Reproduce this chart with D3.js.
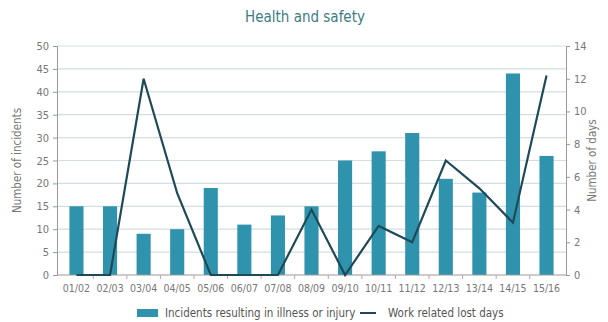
<!DOCTYPE html>
<html>
<head>
<meta charset="utf-8">
<script src="https://cdn.jsdelivr.net/npm/d3@7/dist/d3.min.js"></script>
<style>
  html, body { margin: 0; padding: 0; background: #fff; }
  svg text { font-family: "Liberation Sans Narrow", "DejaVu Sans Condensed", "Roboto", sans-serif; }
</style>
</head>
<body>
<svg id="chart" width="608" height="322"></svg>
<script>
// data
const years = ["01/02","02/03","03/04","04/05","05/06","06/07","07/08","08/09","09/10","10/11","11/12","12/13","13/14","14/15","15/16"];
const incidents = [15, 15, 9, 10, 19, 11, 13, 15, 25, 27, 31, 21, 18, 44, 26];
const lostDays = [0, 0, 12, 5, 0, 0, 0, 4, 0, 3, 2, 7, 5.3, 3.2, 12.2];
const leftTicks = [0, 5, 10, 15, 20, 25, 30, 35, 40, 45, 50];
const rightTicks = [0, 2, 4, 6, 8, 10, 12, 14];

const barColor = "#2f93ae";
const lineColor = "#1e4a58";
const gridColor = "#d3dde2";
const textColor = "#777";

const svg = d3.select("#chart");
const plotL = 57, plotR = 566, plotT = 46, plotB = 275;

const x = d3.scaleBand().domain(years).range([plotL, plotR]).paddingInner(0.58).paddingOuter(0.37);
const yL = d3.scaleLinear().domain([0, 50]).range([plotB, plotT]);
const yR = d3.scaleLinear().domain([0, 14]).range([plotB, plotT]);

// title
svg.append("text")
  .attr("x", 305).attr("y", 22)
  .attr("text-anchor", "middle")
  .attr("fill", "#3d7c83")
  .style("font-size", "15px")
  .text("Health and safety");

// gridlines
svg.append("g").selectAll("line")
  .data(leftTicks.filter(d => d > 0))
  .join("line")
  .attr("x1", plotL).attr("x2", plotR)
  .attr("y1", d => yL(d)).attr("y2", d => yL(d))
  .attr("stroke", gridColor).attr("stroke-width", 1.2);

// left axis
const gL = svg.append("g").attr("transform", `translate(${plotL},0)`)
  .call(d3.axisLeft(yL).tickValues(leftTicks).tickSize(4).tickPadding(4));
// right axis
const gR = svg.append("g").attr("transform", `translate(${plotR},0)`)
  .call(d3.axisRight(yR).tickValues(rightTicks).tickSize(4).tickPadding(4));
[gL, gR].forEach(g => {
  g.select(".domain").attr("stroke", "#999");
  g.selectAll(".tick line").attr("stroke", "#999");
  g.selectAll(".tick text").attr("fill", textColor).style("font-size", "11px");
});

// bars
svg.append("g").selectAll("rect")
  .data(incidents)
  .join("rect")
  .attr("x", (d, i) => x(years[i]))
  .attr("y", d => yL(d))
  .attr("width", x.bandwidth())
  .attr("height", d => plotB - yL(d))
  .attr("fill", barColor);

// x axis baseline
svg.append("line")
  .attr("x1", plotL).attr("x2", plotR)
  .attr("y1", plotB).attr("y2", plotB)
  .attr("stroke", "#999");

// x ticks between categories
const step = x.step();
const bounds = years.slice(1).map(d => x(d) - (step - x.bandwidth()) / 2);
svg.append("g").selectAll("line")
  .data(bounds)
  .join("line")
  .attr("x1", d => d).attr("x2", d => d)
  .attr("y1", plotB).attr("y2", plotB + 4)
  .attr("stroke", "#c9a0a0");

svg.append("g").selectAll("text")
  .data(years)
  .join("text")
  .attr("x", d => x(d) + x.bandwidth() / 2)
  .attr("y", 292)
  .attr("text-anchor", "middle")
  .attr("fill", textColor)
  .style("font-size", "10.5px")
  .text(d => d);

// line
const line = d3.line()
  .x((d, i) => x(years[i]) + x.bandwidth() / 2)
  .y(d => yR(d));
svg.append("path")
  .datum(lostDays)
  .attr("d", line)
  .attr("fill", "none")
  .attr("stroke", lineColor)
  .attr("stroke-width", 2.2)
  .attr("stroke-linejoin", "miter");

// axis titles
svg.append("text")
  .attr("transform", `translate(21,${(plotT + plotB) / 2}) rotate(-90)`)
  .attr("text-anchor", "middle")
  .attr("fill", textColor)
  .style("font-size", "11.5px")
  .text("Number of incidents");
svg.append("text")
  .attr("transform", `translate(596,${(plotT + plotB) / 2}) rotate(-90)`)
  .attr("text-anchor", "middle")
  .attr("fill", textColor)
  .style("font-size", "11.5px")
  .text("Number of days");

// legend
const lg = svg.append("g").attr("transform", "translate(137,313)");
lg.append("rect").attr("x", 0).attr("y", -4).attr("width", 21).attr("height", 8).attr("fill", barColor);
lg.append("text").attr("x", 28).attr("y", 4).attr("fill", "#555").style("font-size", "11.5px")
  .text("Incidents resulting in illness or injury");
lg.append("line").attr("x1", 223).attr("x2", 239).attr("y1", 0).attr("y2", 0)
  .attr("stroke", lineColor).attr("stroke-width", 2);
lg.append("text").attr("x", 251).attr("y", 4).attr("fill", "#555").style("font-size", "11.5px")
  .text("Work related lost days");
</script>
</body>
</html>
